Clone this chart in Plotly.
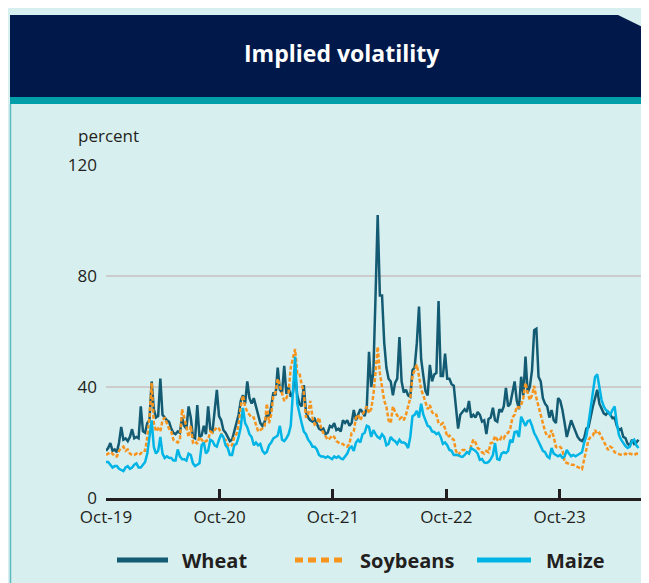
import pandas as pd
import plotly.graph_objects as go

# ---- data (weekly readings, percent) ----
dates = pd.date_range("2019-10-01", periods=246, freq="7D")

wheat = [
17, 18, 19.8, 17, 17.5, 16.5, 20, 25.6, 21, 21.5,
20.5, 22, 24.8, 21.5, 22, 21.5, 33, 24, 23.5, 27,
28, 42, 32, 29, 29.5, 43, 30, 29, 28, 27.5,
25, 23.5, 23, 24, 23.5, 29, 26, 25, 33, 29,
22, 21.5, 33.5, 22, 22.5, 26, 23, 33, 24.5, 24,
31, 39, 29.5, 28, 24.5, 23.5, 22, 20.5, 21, 24,
28, 30, 35, 37, 34, 42, 36, 34, 36, 33,
30, 27, 26, 27.5, 30, 29, 33, 38, 37, 47,
39, 38, 47.6, 37.5, 40, 36.5, 38, 45, 37, 34,
33, 40.7, 31, 29, 28, 27.5, 28.5, 27, 25, 24.5,
25, 23, 23.5, 26, 25.5, 27, 24.5, 25, 24, 28,
27, 28, 26, 27, 31.7, 28, 30, 32, 31, 29.5,
33, 52.7, 40, 45, 72.5, 102, 73, 73, 56, 47,
43, 42, 37, 41.5, 43, 58, 42, 38, 39, 37,
36.5, 46, 47, 55.8, 69, 50, 44, 38.5, 37, 48,
42, 44.5, 45, 71, 44, 44, 52, 43, 43, 41,
40.5, 33, 25, 30, 31, 32, 31, 35, 29, 30,
29, 31, 30, 27.5, 28, 23, 28.5, 29, 32.5, 28,
27.5, 32, 31, 33, 39.7, 33, 34, 37.8, 42, 35,
32, 43.7, 37, 51, 38, 40, 46, 60.5, 61, 43.7,
42, 36, 34, 33, 29, 31.7, 28, 27, 36, 35,
31.7, 27, 22, 25, 28, 26, 24, 22, 21, 20.5,
21.6, 25, 25.5, 30, 33, 36, 39, 34, 32, 30.5,
30, 31, 30, 28.8, 29, 26, 24.5, 25, 22, 21.6,
19.5, 19, 21, 19.5, 20, 21,
]

soybeans = [
15.5, 16, 16.5, 16, 15, 15, 17, 18, 18.5, 17,
17.5, 16, 15.5, 15.5, 16, 15.5, 16, 17, 17, 22,
29, 41.5, 27, 24, 25, 24, 28, 29, 27, 25,
24, 21, 20.5, 20, 21, 32, 29, 26, 22, 26,
20, 20.5, 19.5, 22, 21, 20, 20.5, 21, 24, 23.5,
24.5, 25.5, 25, 23, 21.5, 21, 19, 18.5, 19, 22,
23, 26, 33, 37, 33, 31, 30, 29, 29, 26,
24, 24.5, 25, 26, 34, 27, 30, 37, 38, 43,
40, 38, 35, 36, 38, 47, 50, 53.7, 45, 45,
41, 38, 29, 30, 35, 29, 26.5, 27, 29, 25,
23.5, 22, 21, 21.5, 22.5, 22, 20.5, 20, 19.5, 19.5,
18.7, 18.5, 19.5, 23.4, 24, 29, 30, 28, 30, 31.7,
33, 30.6, 32, 37, 45, 54.5, 45, 40, 35, 33,
28, 27, 33, 31, 29.7, 28.5, 29, 28, 30, 33,
36, 44, 46, 48, 44, 39, 37, 34, 32, 33.5,
31, 30, 30, 27, 26.5, 27, 25, 22, 22.5, 21.5,
21, 17, 15.5, 16.5, 17.3, 17.3, 16.5, 16.5, 19, 21,
20, 18, 17.5, 16.5, 16, 17, 16.5, 19.8, 20, 22.3,
21, 20.5, 22, 21.5, 23, 23.5, 25, 29, 30, 33,
32.5, 33.5, 36, 41.5, 38, 35.3, 37, 40.4, 36, 33,
30, 26, 24, 22.3, 22, 24.5, 22, 18.4, 18, 18.4,
17.5, 13, 12.6, 12.5, 12, 12, 11.5, 11, 10.8, 10.4,
14, 18.5, 21, 22, 22.5, 24.5, 23, 23.5, 22, 20,
18.5, 17.3, 18.5, 18, 16.5, 16, 15.8, 15.6, 15.5, 16,
15.5, 16, 15.8, 15.5, 16, 15.8,
]

maize = [
13, 13, 12, 11, 11.5, 11.5, 10.5, 10, 9.7, 11,
11.5, 10.5, 11, 12, 12.5, 11, 11, 12, 13, 16,
22, 28, 18.4, 16, 17, 22, 16, 14.4, 15, 14.5,
14.4, 13.5, 13.5, 17.5, 15, 14, 14, 13.5, 16, 15.5,
12.5, 11.5, 12, 12.5, 19, 20, 16, 17, 21, 20.5,
19, 18.5, 21, 23, 22, 19, 18, 15.5, 15.5, 19,
19.5, 22, 25.5, 32.5, 27, 25.5, 23, 22, 19, 20,
19, 19.5, 17, 16, 16.6, 19, 20, 21.5, 22, 22.5,
26, 21, 20.5, 21.5, 23, 26, 38, 51, 34, 30,
27, 24, 23, 21, 20, 18.5, 18.5, 17.5, 15.5, 15,
15, 14.5, 15, 14.5, 14, 15, 14.5, 15, 14.3, 14,
15, 16, 18, 18.5, 17, 20, 21, 20, 23, 23.5,
26, 25.6, 22, 24.5, 23, 22, 21.5, 23, 22, 19,
19.5, 22, 21, 20.5, 19.5, 21, 20, 20, 19.5, 18,
22, 29.5, 30, 31.4, 29, 34, 30, 28, 26, 25.6,
24, 23.8, 23, 23.5, 22, 19.5, 20, 19, 17.3, 17,
15.5, 15.5, 15.5, 15, 14.8, 15.5, 16.5, 16, 18, 17.5,
17, 16, 13.7, 14, 12.8, 12.6, 13, 14, 15.5, 19.8,
14, 13.7, 16, 16.5, 16.2, 17, 21, 20, 23.8, 24,
22, 29.3, 27.4, 26, 27.7, 28, 26, 23.4, 22, 20,
18.7, 17, 16.5, 15, 14.4, 18, 16, 15.5, 15, 15.5,
14.5, 15, 17.3, 16, 15, 15.5, 15, 15.5, 16, 16.5,
20, 22.3, 27, 32.5, 38, 43.6, 44.6, 39, 35.3, 33,
31.7, 31, 30, 31.7, 33, 27, 22.7, 21, 19.8, 18.7,
18, 18.5, 20.5, 21, 19, 18,
]

tick_dates = ["2019-10-01", "2020-10-01", "2021-10-01", "2022-10-01", "2023-10-01"]
tick_labels = ["Oct-19", "Oct-20", "Oct-21", "Oct-22", "Oct-23"]
y_ticks = [0, 40, 80, 120]

colors = {"Wheat": "#135a73", "Soybeans": "#f7941d", "Maize": "#00b4e6"}

BG = "#d8efef"
NAVY = "#00194a"
TEAL = "#009ea8"
TXT = "#231f20"
FONT = "Open Sans"

# page body adds an 8px offset; positions below are in screenshot pixels
OFF = 8
W, H = 649, 583
ML = 106 - OFF
MT = 165 - OFF
PLOT_RIGHT = 641 - OFF
PLOT_BOTTOM = 498 - OFF
MR = W - PLOT_RIGHT
MB = H - PLOT_BOTTOM
PW, PH = W - ML - MR, H - MT - MB


def PX(px):
    return (px - OFF - ML) / PW


def PY(py):
    return (PLOT_BOTTOM - (py - OFF)) / PH


fig = go.Figure()
fig.add_trace(go.Scatter(x=dates, y=wheat, name="Wheat", mode="lines",
                         line=dict(color=colors["Wheat"], width=2.5), showlegend=False))
fig.add_trace(go.Scatter(x=dates, y=soybeans, name="Soybeans", mode="lines",
                         line=dict(color=colors["Soybeans"], width=2.5, dash="4px,2px"),
                         showlegend=False))
fig.add_trace(go.Scatter(x=dates, y=maize, name="Maize", mode="lines",
                         line=dict(color=colors["Maize"], width=2.5), showlegend=False))

shapes = []
shapes.append(dict(type="path", xref="paper", yref="paper",
                   path=f"M {PX(10)},{PY(15)} L {PX(618)},{PY(15)} L {PX(652)},{PY(31.5)} "
                        f"L {PX(652)},{PY(97)} L {PX(10)},{PY(97)} Z",
                   fillcolor=NAVY, line=dict(width=0), layer="below"))
shapes.append(dict(type="rect", xref="paper", yref="paper",
                   x0=PX(10), x1=PX(652), y0=PY(104), y1=PY(97),
                   fillcolor=TEAL, line=dict(width=0), layer="below"))
shapes.append(dict(type="line", xref="paper", yref="paper",
                   x0=PX(10.5), x1=PX(10.5), y0=PY(104), y1=PY(590),
                   line=dict(color="#5cb9bf", width=1.5), layer="below"))

leg_y = PY(560)
leg_items = [("Wheat", 117, 168, 180, "solid"),
             ("Soybeans", 295, 347, 358, "8px,5px"),
             ("Maize", 477, 531, 544, "solid")]
annotations = []
for name, x0, x1, tx, dash in leg_items:
    shapes.append(dict(type="line", xref="paper", yref="paper",
                       x0=PX(x0), x1=PX(x1), y0=leg_y, y1=leg_y,
                       line=dict(color=colors[name], width=5, dash=dash)))
    annotations.append(dict(xref="paper", yref="paper", x=PX(tx), y=leg_y,
                            xanchor="left", yanchor="middle", showarrow=False,
                            text=f"<b>{name}</b>",
                            font=dict(family=FONT, size=20, color=TXT)))

annotations.append(dict(xref="paper", yref="paper", x=PX(342), y=PY(53),
                        xanchor="center", yanchor="middle", showarrow=False,
                        text="<b>Implied volatility</b>",
                        font=dict(family=FONT, size=23, color="white")))
annotations.append(dict(xref="paper", yref="paper", x=PX(76), y=PY(135),
                        xanchor="left", yanchor="middle", showarrow=False,
                        text="percent",
                        font=dict(family=FONT, size=17, color=TXT)))

fig.update_layout(
    width=W, height=H,
    margin=dict(l=ML, r=MR, t=MT, b=MB, autoexpand=False),
    paper_bgcolor=BG, plot_bgcolor=BG,
    font=dict(family=FONT, size=17, color=TXT),
    shapes=shapes, annotations=annotations,
    showlegend=False,
)
fig.update_xaxes(
    type="date", range=["2019-10-01", "2024-06-19"],
    tickvals=tick_dates, ticktext=tick_labels,
    showgrid=False, zeroline=False,
    showline=True, linecolor=TXT, linewidth=2.5,
    ticks="inside", ticklen=9, tickwidth=2.5, tickcolor=TXT,
    tickfont=dict(family=FONT, size=17, color=TXT),
    ticklabelstandoff=2,
    automargin=False,
)
fig.update_yaxes(
    range=[0, 120], tickvals=y_ticks,
    showgrid=True, gridcolor="#cccccc", gridwidth=1.5,
    zeroline=False, showline=False, ticks="",
    tickfont=dict(family=FONT, size=17, color=TXT),
    ticklabelstandoff=8,
    automargin=False,
)

fig.write_html("out.html")
